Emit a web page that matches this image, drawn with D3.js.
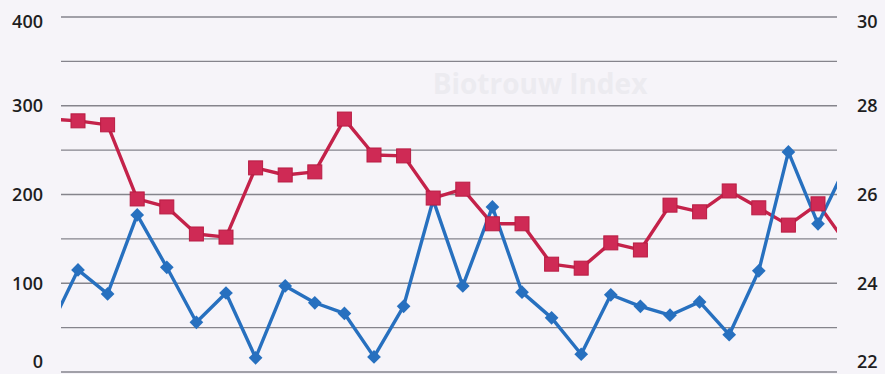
<!DOCTYPE html>
<html>
<head>
<meta charset="utf-8">
<script src="https://cdn.jsdelivr.net/npm/d3@7"></script>
<style>
  html, body { margin: 0; padding: 0; background: #f6f4f9; }
  svg { display: block; }
  .tick text { font-family: "Open Sans", "Liberation Sans", sans-serif; font-weight: 600; font-size: 18px; fill: #1e1e22; }
</style>
</head>
<body>
<div id="chart"></div>
<script>
// point index (first and last fall outside the cropped plot area)
var categories = [-1, 0, 1, 2, 3, 4, 5, 6, 7, 8, 9, 10, 11, 12, 13, 14, 15, 16, 17, 18, 19, 20, 21, 22, 23, 24, 25, 26];
// blue series, left axis
var blueValues = [46, 115, 88, 177, 118, 56, 89, 16, 97, 78, 66, 17, 74, 194, 97, 186, 90, 61, 20, 87, 74, 64, 79, 42, 114, 248, 167, 236];
// red series, right axis
var redValues = [27.7, 27.66, 27.57, 25.9, 25.72, 25.11, 25.04, 26.6, 26.44, 26.51, 27.7, 26.89, 26.87, 25.92, 26.12, 25.34, 25.34, 24.43, 24.34, 24.91, 24.75, 25.76, 25.61, 26.08, 25.7, 25.31, 25.79, 24.86];
var leftTicks = [0, 100, 200, 300, 400];
var rightTicks = [22, 24, 26, 28, 30];
var gridTicks = [0, 50, 100, 150, 200, 250, 300, 350, 400];

var width = 885, height = 374;
var plotLeft = 61, plotRight = 837, plotTop = 17, plotBottom = 372;

var svg = d3.select("#chart").append("svg")
    .attr("width", width)
    .attr("height", height);

svg.append("rect").attr("width", width).attr("height", height).attr("fill", "#f6f4f9");

var x = d3.scaleLinear().domain([0, 25]).range([78, 818]);
var yL = d3.scaleLinear().domain([0, 400]).range([plotBottom, plotTop]);
var yR = d3.scaleLinear().domain([22, 30]).range([plotBottom, plotTop]);

// faint title bleeding through the scan
svg.append("text")
    .attr("x", 540).attr("y", 94)
    .attr("text-anchor", "middle")
    .attr("font-family", "Open Sans, sans-serif")
    .attr("font-weight", 700)
    .attr("font-size", 28)
    .attr("fill", "#ecebf0")
    .text("Biotrouw Index");

// gridlines
svg.append("g")
    .selectAll("line")
    .data(gridTicks)
    .enter().append("line")
    .attr("x1", plotLeft).attr("x2", plotRight)
    .attr("y1", d => yL(d)).attr("y2", d => yL(d))
    .attr("stroke", "#85848c")
    .attr("stroke-width", 1.3);

// axes
svg.append("g")
    .attr("transform", "translate(43,0)")
    .call(d3.axisLeft(yL).tickValues(leftTicks).tickSize(0).tickPadding(0));
svg.append("g")
    .attr("transform", "translate(857,0)")
    .call(d3.axisRight(yR).tickValues(rightTicks).tickSize(0).tickPadding(0));
svg.selectAll(".domain").remove();
// keep top/bottom labels inside the frame
svg.selectAll(".tick").attr("transform", function() {
  var t = d3.select(this).attr("transform");
  var yy = +t.match(/,\s*([-\d.]+)/)[1];
  return "translate(0," + Math.max(22, Math.min(362, yy)) + ")";
});

svg.append("clipPath").attr("id", "plotclip")
  .append("rect")
    .attr("x", plotLeft).attr("y", 0)
    .attr("width", plotRight - plotLeft).attr("height", height);

var plot = svg.append("g").attr("clip-path", "url(#plotclip)");

var redData = categories.map((c, i) => ({i: c, v: redValues[i]}));
var blueData = categories.map((c, i) => ({i: c, v: blueValues[i]}));

var redLine = d3.line().x(d => x(d.i)).y(d => yR(d.v));
var blueLine = d3.line().x(d => x(d.i)).y(d => yL(d.v));

plot.append("path").datum(redData)
    .attr("d", redLine)
    .attr("fill", "none")
    .attr("stroke", "#c4224a")
    .attr("stroke-width", 3.4)
    .attr("stroke-linejoin", "round");

plot.append("path").datum(blueData)
    .attr("d", blueLine)
    .attr("fill", "none")
    .attr("stroke", "#2770bf")
    .attr("stroke-width", 3.4)
    .attr("stroke-linejoin", "round");

plot.selectAll(".diamond")
    .data(blueData)
    .enter().append("path")
    .attr("class", "diamond")
    .attr("d", d3.symbol().type(d3.symbolDiamond2).size(120))
    .attr("transform", d => "translate(" + x(d.i) + "," + yL(d.v) + ")")
    .attr("fill", "#2770bf");

plot.selectAll(".square")
    .data(redData)
    .enter().append("rect")
    .attr("class", "square")
    .attr("x", d => x(d.i) - 7).attr("y", d => yR(d.v) - 7)
    .attr("width", 14).attr("height", 14)
    .attr("fill", "#cf2a55")
    .attr("stroke", "#b81c43")
    .attr("stroke-width", 1);
</script>
</body>
</html>
